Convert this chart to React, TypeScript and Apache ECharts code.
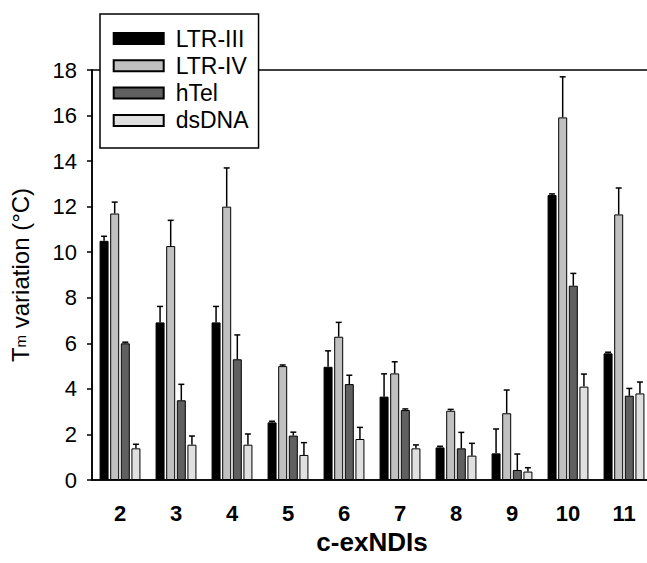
import React, { useEffect, useRef } from "react";
import * as echarts from "echarts";

const categories = ["2", "3", "4", "5", "6", "7", "8", "9", "10", "11"];
const seriesNames = ["LTR-III", "LTR-IV", "hTel", "dsDNA"];
const ltr3 = [10.5, 6.92, 6.92, 2.53, 4.97, 3.66, 1.43, 1.17, 12.51, 5.56];
const ltr3Sd = [0.2, 0.7, 0.7, 0.05, 0.7, 1.0, 0.05, 1.07, 0.05, 0.05];
const ltr4 = [11.7, 10.27, 12.0, 5.0, 6.29, 4.68, 3.04, 2.93, 15.92, 11.66];
const ltr4Sd = [0.5, 1.13, 1.7, 0.05, 0.63, 0.51, 0.06, 1.02, 1.78, 1.16];
const hTel = [6.0, 3.5, 5.3, 1.95, 4.21, 3.07, 1.39, 0.44, 8.53, 3.7];
const hTelSd = [0.05, 0.7, 1.07, 0.15, 0.39, 0.05, 0.7, 0.7, 0.54, 0.32];
const dsDNA = [1.39, 1.55, 1.55, 1.1, 1.8, 1.39, 1.07, 0.37, 4.1, 3.8];
const dsDNASd = [0.18, 0.38, 0.47, 0.54, 0.51, 0.15, 0.54, 0.17, 0.55, 0.5];
const yTicks = [0, 18, 2];

const values = [ltr3, ltr4, hTel, dsDNA];
const sds = [ltr3Sd, ltr4Sd, hTelSd, dsDNASd];
const colors = ["#000000", "#c0c0c0", "#606060", "#e0e0e0"];

const FONT = "'Liberation Sans', Arial, sans-serif";
const BAR_WIDTH = 9;
const BAR_GAP = 0.18;

export default function App() {
  const ref = useRef<HTMLDivElement>(null);
  useEffect(() => {
    document.body.style.margin = "0";
    const chart = echarts.init(ref.current!, null, { renderer: "svg" });
    const barSeries = seriesNames.map((name, k) => ({
      name,
      type: "bar",
      data: values[k],
      barWidth: BAR_WIDTH,
      barGap: `${BAR_GAP * 100}%`,
      itemStyle: { color: colors[k], borderColor: "#000", borderWidth: 1 },
      z: 2,
    }));
    const errSeries = seriesNames.map((name, k) => ({
      type: "custom",
      name: name + "-err",
      data: values[k].map((v, i) => [i, v, v + sds[k][i]]),
      z: 3,
      silent: true,
      renderItem: (params: any, api: any) => {
        const i = api.value(0);
        const base = api.coord([i, api.value(1)]);
        const top = api.coord([i, api.value(2)]);
        const off = (k - 1.5) * BAR_WIDTH * (1 + BAR_GAP);
        const x = base[0] + off;
        return {
          type: "group",
          children: [
            {
              type: "line",
              shape: { x1: x, y1: base[1], x2: x, y2: top[1] },
              style: { stroke: "#000", lineWidth: 1.5 },
            },
            {
              type: "line",
              shape: { x1: x - 3, y1: top[1], x2: x + 3, y2: top[1] },
              style: { stroke: "#000", lineWidth: 1.5 },
            },
          ],
        };
      },
    }));
    chart.setOption({
      animation: false,
      grid: {
        left: 92,
        top: 70,
        bottom: 83,
        right: -5,
        outerBoundsMode: "none",
        containLabel: false,
        show: true,
        borderColor: "#000",
        borderWidth: 1.5,
        backgroundColor: "transparent",
      },
      legend: {
        left: 100,
        top: 14,
        orient: "vertical",
        data: seriesNames,
        icon: "rect",
        itemWidth: 50,
        itemHeight: 11,
        itemGap: 4.3,
        padding: [13, 10, 16, 12.7],
        backgroundColor: "#fff",
        borderColor: "#000",
        borderWidth: 1.5,
        formatter: "{t|{name}}",
        textStyle: {
          rich: {
            t: { fontFamily: FONT, fontSize: 23, color: "#000", padding: [0, 0, 0, 7], lineHeight: 24 },
          },
        },
        z: 10,
      },
      xAxis: {
        type: "category",
        data: categories,
        name: "c-exNDIs",
        nameLocation: "middle",
        nameGap: 46,
        nameTextStyle: { fontFamily: FONT, fontSize: 26, fontWeight: "bold", color: "#000" },
        axisLine: { lineStyle: { color: "#000", width: 1.5 } },
        axisTick: { alignWithLabel: true, length: 7, lineStyle: { color: "#000", width: 1.5 } },
        axisLabel: { fontFamily: FONT, fontSize: 22, fontWeight: "bold", color: "#000", margin: 22 },
        splitLine: { show: false },
      },
      yAxis: {
        type: "value",
        min: yTicks[0],
        max: yTicks[1],
        interval: yTicks[2],
        name: "{t|T}{s|m}{t| variation (°C)}",
        nameLocation: "middle",
        nameGap: 60,
        nameRotate: 90,
        nameTextStyle: {
          rich: {
            t: { fontFamily: FONT, fontSize: 24, color: "#000" },
            s: { fontFamily: FONT, fontSize: 15, color: "#000" },
          },
        },
        axisLine: { show: true, lineStyle: { color: "#000", width: 1.5 } },
        axisTick: { show: true, length: 5, lineStyle: { color: "#000", width: 1.5 } },
        axisLabel: { fontFamily: FONT, fontSize: 22, color: "#000", margin: 15 },
        splitLine: { show: false },
      },
      series: [...barSeries, ...errSeries],
    });
    return () => chart.dispose();
  }, []);
  return <div ref={ref} style={{ width: 647, height: 563 }} />;
}
